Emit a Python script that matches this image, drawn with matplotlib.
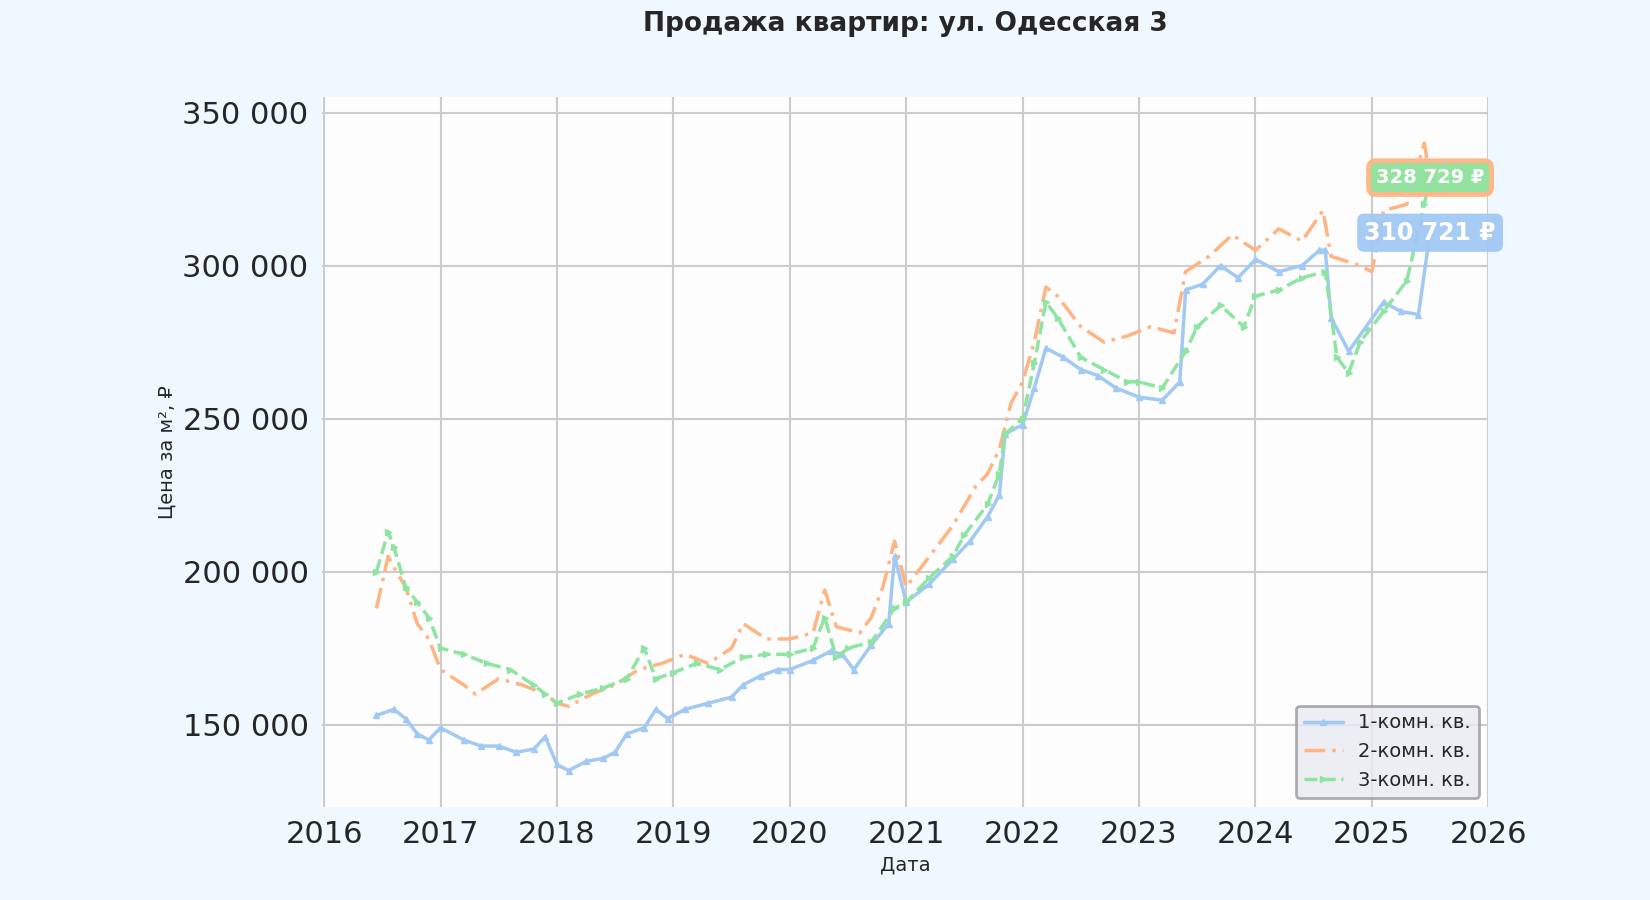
import matplotlib
matplotlib.use("Agg")
import matplotlib.pyplot as plt
import seaborn as sns

sns.set_theme(style="whitegrid", palette="pastel")
plt.rcParams["font.family"] = ["DejaVu Sans"]

years_1 = [2016.45, 2016.6, 2016.7, 2016.8, 2016.9, 2017.0, 2017.2, 2017.35, 2017.5, 2017.65, 2017.8,
           2017.9, 2018.0, 2018.1, 2018.25, 2018.4, 2018.5, 2018.6, 2018.75, 2018.85, 2018.95, 2019.1,
           2019.3, 2019.5, 2019.6, 2019.75, 2019.9, 2020.0, 2020.2, 2020.35, 2020.45, 2020.55, 2020.7,
           2020.85, 2020.9, 2021.0, 2021.2, 2021.4, 2021.55, 2021.7, 2021.8, 2021.85, 2022.0, 2022.1,
           2022.2, 2022.35, 2022.5, 2022.65, 2022.8, 2023.0, 2023.2, 2023.35, 2023.4, 2023.55, 2023.7,
           2023.85, 2024.0, 2024.2, 2024.4, 2024.55, 2024.6, 2024.65, 2024.8, 2024.95, 2025.1, 2025.25,
           2025.4, 2025.5]
price_1 = [153000, 155000, 152000, 147000, 145000, 149000, 145000, 143000, 143000, 141000, 142000,
           146000, 137000, 135000, 138000, 139000, 141000, 147000, 149000, 155000, 152000, 155000,
           157000, 159000, 163000, 166000, 168000, 168000, 171000, 174000, 173000, 168000, 176000,
           183000, 205000, 190000, 196000, 204000, 210000, 218000, 225000, 245000, 248000, 260000,
           273000, 270000, 266000, 264000, 260000, 257000, 256000, 262000, 292000, 294000, 300000,
           296000, 302000, 298000, 300000, 305000, 305000, 283000, 272000, 280000, 288000, 285000,
           284000, 310721]

years_2 = [2016.45, 2016.55, 2016.62, 2016.7, 2016.8, 2016.9, 2017.0, 2017.2, 2017.3, 2017.5, 2017.7,
           2017.9, 2018.0, 2018.1, 2018.3, 2018.5, 2018.7, 2018.9, 2019.1, 2019.3, 2019.5, 2019.6,
           2019.8, 2020.0, 2020.2, 2020.3, 2020.4, 2020.6, 2020.7, 2020.8, 2020.9, 2021.0, 2021.2,
           2021.4, 2021.6, 2021.7, 2021.8, 2021.9, 2022.0, 2022.1, 2022.2, 2022.3, 2022.5, 2022.7,
           2022.9, 2023.1, 2023.3, 2023.4, 2023.6, 2023.8, 2024.0, 2024.2, 2024.4, 2024.58, 2024.65,
           2024.9, 2025.0, 2025.1, 2025.3, 2025.45, 2025.5]
price_2 = [188000, 205000, 200000, 195000, 183000, 178000, 168000, 163000, 160000, 165000, 163000,
           160000, 157000, 156000, 160000, 163000, 168000, 170000, 173000, 170000, 175000, 183000,
           178000, 178000, 180000, 194000, 182000, 180000, 185000, 195000, 210000, 195000, 205000,
           215000, 228000, 232000, 240000, 255000, 262000, 275000, 293000, 290000, 280000, 275000,
           277000, 280000, 278000, 298000, 303000, 310000, 305000, 312000, 308000, 318000, 303000,
           300000, 298000, 318000, 320000, 340000, 328729]

years_3 = [2016.45, 2016.55, 2016.6, 2016.7, 2016.8, 2016.9, 2017.0, 2017.2, 2017.4, 2017.6, 2017.8,
           2017.9, 2018.0, 2018.2, 2018.4, 2018.6, 2018.75, 2018.85, 2019.0, 2019.2, 2019.4, 2019.6,
           2019.8, 2020.0, 2020.2, 2020.3, 2020.4, 2020.5, 2020.7, 2020.9, 2021.0, 2021.2, 2021.4,
           2021.5, 2021.7, 2021.8, 2021.85, 2022.0, 2022.1, 2022.2, 2022.3, 2022.5, 2022.7, 2022.9,
           2023.0, 2023.2, 2023.4, 2023.5, 2023.7, 2023.9, 2024.0, 2024.2, 2024.4, 2024.6, 2024.7,
           2024.8, 2024.9, 2025.1, 2025.3, 2025.45, 2025.5]
price_3 = [200000, 213000, 208000, 195000, 190000, 185000, 175000, 173000, 170000, 168000, 163000,
           160000, 157000, 160000, 162000, 165000, 175000, 165000, 167000, 170000, 168000, 172000,
           173000, 173000, 175000, 185000, 172000, 175000, 177000, 188000, 190000, 198000, 205000,
           212000, 222000, 232000, 245000, 250000, 268000, 288000, 283000, 270000, 266000, 262000,
           262000, 260000, 272000, 280000, 287000, 280000, 290000, 292000, 296000, 298000, 270000,
           265000, 275000, 285000, 295000, 320000, 328729]

labels = ["1-комн. кв.", "2-комн. кв.", "3-комн. кв."]
colors = sns.color_palette("pastel")

fig, ax = plt.subplots(figsize=(16.5, 9), dpi=100)
fig.patch.set_facecolor("#f0f8ff")
ax.set_facecolor("#fdfdfd")

ax.plot(years_1, price_1, "-", marker="^", markersize=5, lw=2.5, color=colors[0], label=labels[0])
ax.plot(years_2, price_2, linestyle=(0, (6, 2, 1, 2)), lw=2.5, color=colors[1], label=labels[1])
ax.plot(years_3, price_3, "--", marker=">", markersize=5, lw=2.5, color=colors[2], label=labels[2])

def fmt(v):
    return f"{v:,.0f}".replace(",", " ")

for yrs, vals, c, pad in [(years_1, price_1, colors[0], 0.3),
                          (years_2, price_2, colors[1], 0.5),
                          (years_3, price_3, colors[2], 0.25)]:
    ax.annotate(fmt(vals[-1]) + " ₽", xy=(yrs[-1], vals[-1]), xytext=(0, 0),
                textcoords="offset points", ha="center", va="center",
                color="white", fontsize=14 if c != colors[0] else 17, fontweight="bold",
                bbox=dict(boxstyle=f"round,pad={pad}", fc=c, ec="none", alpha=0.95))

ax.set_xlim(2015.98, 2025.98)
ax.set_ylim(123000, 355000)
ax.set_xticks(range(2016, 2027))
ax.set_yticks([150000, 200000, 250000, 300000, 350000])
ax.yaxis.set_major_formatter(matplotlib.ticker.FuncFormatter(lambda v, _: fmt(v)))
ax.tick_params(labelsize=22)
ax.grid(color="#cccccc", lw=1.5)
for s in ax.spines.values():
    s.set_visible(False)

ax.set_title("Продажа квартир: ул. Одесская 3", fontsize=19, fontweight="bold", pad=48)
ax.set_xlabel("Дата", fontsize=14)
ax.set_ylabel("Цена за м², ₽", fontsize=14)
leg = ax.legend(loc="lower right", fontsize=14, frameon=True, facecolor="#eaeaf2",
                edgecolor="#999999")
leg.get_frame().set_linewidth(2)

fig.subplots_adjust(left=0.195, right=0.902, top=0.892, bottom=0.103)
fig.savefig("out.png", dpi=100, facecolor=fig.get_facecolor())
